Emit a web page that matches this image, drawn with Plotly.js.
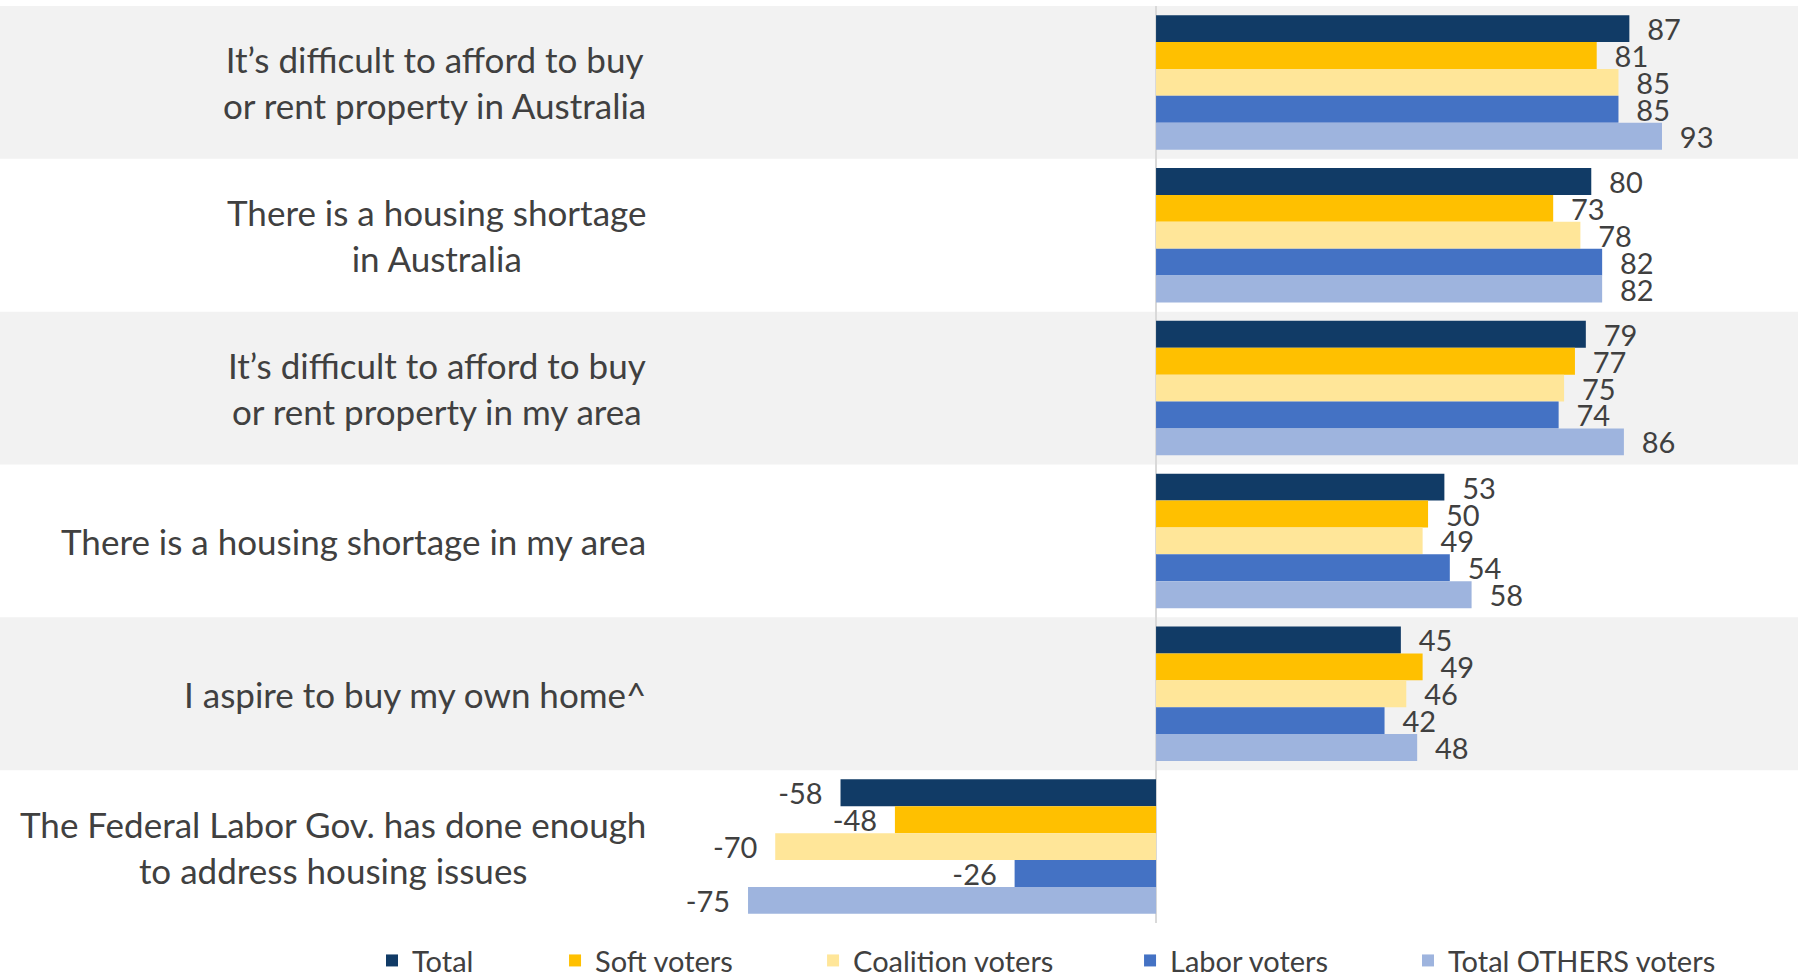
<!DOCTYPE html>
<html>
<head>
<meta charset="utf-8">
<script src="https://cdn.plot.ly/plotly-3.0.1.min.js"></script>
<style>html,body{margin:0;padding:0;background:#fff;}#chart{width:1798px;height:973px;}</style>
</head>
<body>
<div id="chart"></div>
<script>
const categories = [
  "It’s difficult to afford to buy<br>or rent property in Australia",
  "There is a housing shortage<br>in Australia",
  "It’s difficult to afford to buy<br>or rent property in my area",
  "There is a housing shortage in my area",
  "I aspire to buy my own home^",
  "The Federal Labor Gov. has done enough<br>to address housing issues"
];
const seriesNames = ["Total", "Soft voters", "Coalition voters", "Labor voters", "Total OTHERS voters"];
const total          = [87, 80, 79, 53, 45, -58];
const softVoters     = [81, 73, 77, 50, 49, -48];
const coalitionVoters= [85, 78, 75, 49, 46, -70];
const laborVoters    = [85, 82, 74, 54, 42, -26];
const othersVoters   = [93, 82, 86, 58, 48, -75];
const seriesValues = [total, softVoters, coalitionVoters, laborVoters, othersVoters];
const colors = ["#113B66", "#FFC000", "#FFE699", "#4472C4", "#9EB4DE"];

const FONT = "Lato, 'Open Sans', sans-serif";
const TXT = "#404040";
const pad = "\u00a0\u00a0";

const legendX = [0.2069, 0.3087, 0.4522, 0.6285, 0.7831];

const traces = seriesValues.map((vals, i) => ({
  type: "bar",
  orientation: "h",
  name: seriesNames[i],
  y: categories,
  x: vals,
  marker: {color: colors[i], line: {width: 0}},
  text: vals.map(v => v < 0 ? String(v) + pad : pad + String(v)),
  textposition: "outside",
  constraintext: "none",
  cliponaxis: false,
  textfont: {family: FONT, size: 29, color: TXT},
  legend: i === 0 ? "legend" : "legend" + (i + 1),
  hoverinfo: "skip"
}));

const shapes = [];
for (let i = 0; i < categories.length; i += 2) {
  shapes.push({type: "rect", xref: "paper", yref: "y", x0: 0, x1: 1,
    y0: i - 0.5, y1: i + 0.5, fillcolor: "#F2F2F2", line: {width: 0}, layer: "below"});
}

const annotations = categories.map(c => ({
  xref: "paper", yref: "y", x: 648 / 1798, y: c,
  xanchor: "right", yanchor: "middle", align: "center",
  text: c, showarrow: false,
  font: {family: FONT, size: 35, color: TXT}
}));

const layout = {
  width: 1798, height: 973,
  margin: {l: 0, r: 0, t: 6, b: 50, pad: 0, autoexpand: false},
  paper_bgcolor: "#ffffff", plot_bgcolor: "rgba(0,0,0,0)",
  barmode: "group", bargap: 0.12, bargroupgap: 0,
  xaxis: {range: [-212.5, 118], showgrid: false, showticklabels: false, ticks: "",
    zeroline: true, zerolinecolor: "#D9D9D9", zerolinewidth: 1.5, fixedrange: true},
  yaxis: {type: "category", autorange: "reversed", showticklabels: false, showgrid: false,
    zeroline: false, ticks: "", fixedrange: true},
  shapes: shapes,
  annotations: annotations,
  showlegend: true,
  hovermode: false
};
legendX.forEach((lx, i) => {
  const key = i === 0 ? "legend" : "legend" + (i + 1);
  layout[key] = {orientation: "h", x: lx, xanchor: "left", y: -0.041, yanchor: "middle",
    font: {family: FONT, size: 29, color: TXT}, bgcolor: "rgba(0,0,0,0)", borderwidth: 0};
});

Plotly.newPlot("chart", traces, layout, {displayModeBar: false, staticPlot: true});
</script>
</body>
</html>
